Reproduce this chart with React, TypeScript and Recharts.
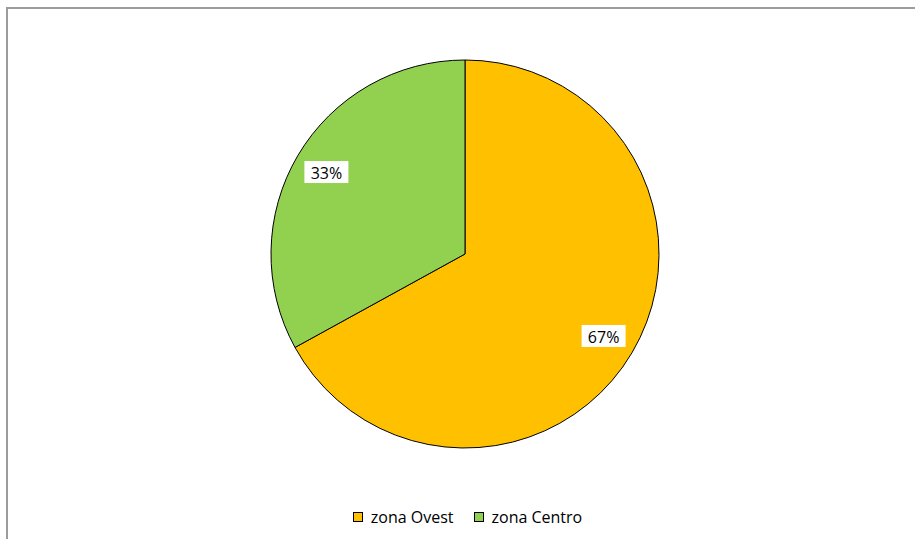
import { Cell, Legend, Pie, PieChart } from "recharts";

const zoneNames = ["zona Ovest", "zona Centro"];
const zoneShares = [67, 33];
const zoneColors = ["#FFC000", "#92D050"];

const chartData = zoneNames.map((name, index) => ({
  name,
  value: zoneShares[index],
}));

const RADIAN = Math.PI / 180;
const labelFont = "'Open Sans', 'DejaVu Sans', sans-serif";

function renderPercentLabel(props: any) {
  const { cx, cy, midAngle, outerRadius, percent } = props;
  const radius = outerRadius * 0.83;
  const x = cx + radius * Math.cos(-midAngle * RADIAN);
  const y = cy + radius * Math.sin(-midAngle * RADIAN);

  return (
    <g>
      <rect x={x - 22} y={y - 11} width={44} height={22} fill="#ffffff" />
      <text
        x={x}
        y={y + 1}
        textAnchor="middle"
        dominantBaseline="central"
        fontSize={16}
        fontFamily={labelFont}
        fill="#000000"
      >
        {`${Math.round(percent * 100)}%`}
      </text>
    </g>
  );
}

function renderLegend() {
  return (
    <div
      style={{
        display: "flex",
        justifyContent: "center",
        alignItems: "center",
        gap: 20,
        fontFamily: labelFont,
        fontSize: 16,
        color: "#000000",
      }}
    >
      {chartData.map((entry, index) => (
        <div key={entry.name} style={{ display: "flex", alignItems: "center", gap: 8 }}>
          <span
            style={{
              display: "inline-block",
              width: 8,
              height: 8,
              background: zoneColors[index],
              border: "1px solid #000000",
            }}
          />
          <span>{entry.name}</span>
        </div>
      ))}
    </div>
  );
}

export default function App() {
  return (
    <div
      style={{
        position: "fixed",
        left: 0,
        top: 0,
        width: 915,
        height: 539,
        overflow: "hidden",
        background: "#ffffff",
      }}
    >
      <div
        style={{
          position: "absolute",
          left: 6,
          top: 7,
          width: 1000,
          height: 700,
          borderLeft: "2px solid #9c9c9c",
          borderTop: "2px solid #9c9c9c",
        }}
      />
      <div style={{ position: "absolute", left: 0, top: 0 }}>
        <PieChart width={915} height={539} margin={{ top: 0, right: 0, bottom: 0, left: 0 }}>
          <Pie
            data={chartData}
            dataKey="value"
            nameKey="name"
            cx={465}
            cy={254}
            outerRadius={194}
            startAngle={90}
            endAngle={-270}
            stroke="#000000"
            strokeWidth={1}
            label={renderPercentLabel}
            labelLine={false}
            isAnimationActive={false}
          >
            {chartData.map((entry, index) => (
              <Cell key={entry.name} fill={zoneColors[index]} />
            ))}
          </Pie>
          <Legend
            content={renderLegend}
            wrapperStyle={{ position: "absolute", left: 10, top: 506, width: 915 }}
          />
        </PieChart>
      </div>
    </div>
  );
}
